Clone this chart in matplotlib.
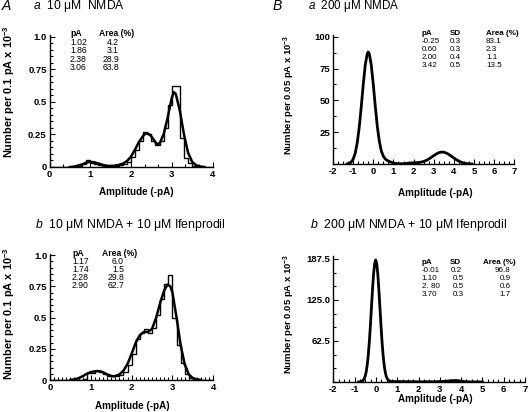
import matplotlib
matplotlib.use("Agg")
import matplotlib.pyplot as plt
from matplotlib.ticker import MultipleLocator

plt.rcParams['font.family'] = ['Liberation Sans', 'DejaVu Sans']
plt.rcParams['mathtext.fontset'] = 'custom'
plt.rcParams['mathtext.rm'] = 'Liberation Sans'
plt.rcParams['mathtext.it'] = 'Liberation Sans:italic'
plt.rcParams['mathtext.bf'] = 'Liberation Sans:bold'

# ---------------- data ----------------
bin_edges_A = [i / 10 for i in range(41)]

hist_Aa = [0, 0, 0, 0, 0, 0, 0,
           0.005, 0.02, 0.05, 0.03, 0.02, 0.012, 0.006, 0.005, 0.005, 0.01,
           0.012, 0.02, 0.04, 0.075, 0.13, 0.2, 0.265, 0.25, 0.2, 0.17,
           0.2, 0.3, 0.48, 0.62, 0.62, 0.22, 0.07, 0.03, 0.01, 0.005,
           0, 0, 0]
fit_Aa_x = [0.5, 0.6, 0.7, 0.8, 0.9, 1.0, 1.1, 1.2, 1.3, 1.4, 1.5, 1.6, 1.7, 1.8,
            1.9, 2.0, 2.1, 2.2, 2.3, 2.35, 2.4, 2.45, 2.5, 2.6, 2.65, 2.7, 2.8,
            2.9, 3.0, 3.05, 3.1, 3.2, 3.3, 3.4, 3.5, 3.6, 3.7, 3.8]
fit_Aa_y = [0.0, 0.003, 0.01, 0.02, 0.033, 0.04, 0.036, 0.027, 0.017, 0.01, 0.008,
            0.01, 0.016, 0.026, 0.045, 0.08, 0.135, 0.195, 0.24, 0.255, 0.258,
            0.25, 0.235, 0.19, 0.175, 0.18, 0.25, 0.38, 0.53, 0.575, 0.56, 0.43,
            0.25, 0.11, 0.04, 0.013, 0.004, 0.0]

hist_Ab = [0, 0, 0, 0, 0, 0, 0, 0,
           0.01, 0.06, 0.06, 0.07, 0.065, 0.05, 0.035, 0.03, 0.03, 0.04,
           0.065, 0.12, 0.21, 0.33, 0.38, 0.41, 0.375, 0.42, 0.52, 0.65,
           0.77, 0.84, 0.5, 0.28, 0.14, 0.05, 0.02, 0.01,
           0, 0, 0, 0]
fit_Ab_x = [0.5, 0.6, 0.7, 0.8, 0.9, 1.0, 1.1, 1.17, 1.25, 1.3, 1.4, 1.5, 1.55,
            1.6, 1.7, 1.8, 1.9, 2.0, 2.1, 2.2, 2.3, 2.4, 2.5, 2.6, 2.7, 2.8,
            2.88, 2.95, 3.0, 3.1, 3.2, 3.3, 3.4, 3.5, 3.6, 3.7]
fit_Ab_y = [0.0, 0.005, 0.015, 0.03, 0.05, 0.063, 0.07, 0.072, 0.068, 0.062,
            0.045, 0.033, 0.03, 0.032, 0.045, 0.075, 0.13, 0.21, 0.3, 0.36,
            0.385, 0.385, 0.41, 0.5, 0.62, 0.72, 0.765, 0.75, 0.7, 0.5, 0.28,
            0.125, 0.045, 0.015, 0.005, 0.0]

fit_Ba_x = [-1.3, -1.2, -1.1, -1.0, -0.9, -0.8, -0.7, -0.6, -0.5, -0.4, -0.3,
            -0.25, -0.2, -0.1, 0.0, 0.1, 0.2, 0.3, 0.4, 0.5, 0.6, 0.7, 0.8, 0.9,
            1.0, 1.1, 1.2, 1.3, 1.4, 1.5, 1.6, 1.7, 1.8, 1.9, 2.0, 2.1, 2.2, 2.3,
            2.4, 2.5, 2.6, 2.7, 2.8, 2.9, 3.0, 3.1, 3.2, 3.3, 3.4, 3.5, 3.6, 3.7,
            3.8, 3.9, 4.0, 4.1, 4.2, 4.3, 4.4, 4.5, 4.6, 4.7, 4.8, 4.9]
fit_Ba_y = [0.2, 0.6, 1.6, 3.9, 8.4, 16.4, 28.6, 44.5, 62.2, 77.7, 86.8,
            88.0, 86.8, 77.7, 62.5, 45.1, 29.6, 17.9, 10.3, 6.2, 4.0, 2.9,
            2.1, 1.5, 1.0, 0.67, 0.44, 0.36, 0.36, 0.45, 0.56, 0.71,
            0.84, 0.96, 1.07, 1.16, 1.27, 1.45, 1.74, 2.16, 2.77, 3.57,
            4.52, 5.6, 6.72, 7.76, 8.63, 9.23, 9.5, 9.38, 8.9, 8.12,
            7.12, 5.99, 4.85, 3.77, 2.81, 2.02, 1.39, 0.92, 0.59, 0.36,
            0.21, 0.12]

fit_Bb_x = [-0.81, -0.71, -0.61, -0.56, -0.51, -0.46, -0.41, -0.36, -0.31, -0.26,
            -0.21, -0.16, -0.11, -0.06, -0.01, 0.04, 0.09, 0.14, 0.19, 0.24,
            0.29, 0.34, 0.39, 0.44, 0.49, 0.54, 0.59, 0.69, 0.79,
            1.1, 1.5, 2.0, 2.5, 2.8, 3.2, 3.5, 3.7, 3.9, 4.2, 4.5, 5.0]
fit_Bb_y = [0.06, 0.4, 2.1, 4.2, 8.2, 14.8, 25.2, 40.3, 60.4, 85.2,
            112.8, 140.4, 164.1, 180.3, 186.0, 180.3, 164.1, 140.4, 112.8, 85.2,
            60.4, 40.3, 25.2, 14.8, 8.2, 4.7, 2.6, 1.0, 0.6,
            0.7, 0.5, 0.3, 0.35, 0.5, 0.9, 1.8, 2.3, 1.8, 0.5, 0.1, 0.0]

table_Aa_pA = ["1.02", "1.86", "2.38", "3.06"]
table_Aa_area = ["4.2", "3.1", "28.9", "63.8"]
table_Ab_pA = ["1.17", "1.74", "2.28", "2.90"]
table_Ab_area = ["6.0", "1.5", "29.8", "62.7"]
table_Ba_pA = ["-0.25", "0.60", "2.00", "3.42"]
table_Ba_sd = ["0.3", "0.3", "0.4", "0.5"]
table_Ba_area = ["83.1", "2.3", "1.1", "13.5"]
table_Bb_pA = ["-0.01", "1.10", "2. 80", "3.70"]
table_Bb_sd = ["0.2", "0.5", "0.5", "0.3"]
table_Bb_area = ["96.8", "0.9", "0.6", "1.7"]

A_yticks = [0, 0.25, 0.5, 0.75, 1.0]
A_yticklabels = ["0", "0.25", "0.5", "0.75", "1.0"]
A_xticks = [0, 1, 2, 3, 4]
B_xticks = [-2, -1, 0, 1, 2, 3, 4, 5, 6, 7]
Ba_yticks = [25, 50, 75, 100]
Bb_yticks = [62.5, 125.0, 187.5]
Bb_yticklabels = ["62.5", "125.0", "187.5"]

# ---------------- figure ----------------
W, H = 529, 412
fig = plt.figure(figsize=(W / 100, H / 100), dpi=100)


def ax_px(left, right, bottom, top):
    return fig.add_axes([left / W, 1 - bottom / H, (right - left) / W, (bottom - top) / H])


def style(ax):
    for s in ['top', 'right']:
        ax.spines[s].set_visible(False)
    for s in ['left', 'bottom']:
        ax.spines[s].set_linewidth(1.0)
    ax.tick_params(which='both', direction='in', width=0.8, labelsize=6.8, pad=2)
    ax.tick_params(which='major', length=3.5)
    ax.tick_params(which='minor', length=2.2)
    for lab in ax.get_xticklabels() + ax.get_yticklabels():
        lab.set_fontweight('bold')


LAB = dict(fontsize=7.1, fontweight='bold')
YLAB_A_STYLE = dict(fontsize=7.9, fontweight='bold')
YLAB_B_STYLE = dict(fontsize=6.8, fontweight='bold')
YLAB_A = r"Number per 0.1 pA x 10$^{\mathbf{-3}}$"
YLAB_B = r"Number per 0.05 pA x 10$^{\mathbf{-3}}$"

# Aa
axAa = ax_px(49.5, 212.5, 167, 35.5)
axAa.stairs(hist_Aa, bin_edges_A, color='black', linewidth=1.0, baseline=0)
axAa.plot(fit_Aa_x, fit_Aa_y, color='black', linewidth=1.8)
axAa.set_xlim(0, 4)
axAa.set_ylim(0, 1.01)
axAa.set_xticks(A_xticks)
axAa.set_xticklabels([str(t) for t in A_xticks])
axAa.set_yticks(A_yticks)
axAa.set_yticklabels(A_yticklabels)
axAa.xaxis.set_minor_locator(MultipleLocator(1 / 3))
axAa.yaxis.set_minor_locator(MultipleLocator(0.05))
style(axAa)
axAa.set_xlabel("Amplitude (-pA)", **LAB)
axAa.xaxis.set_label_coords(0.533, -0.155)
axAa.set_ylabel(YLAB_A, **YLAB_A_STYLE)
axAa.yaxis.set_label_coords(-0.198, 0.572)

# Ab
axAb = ax_px(50, 213.3, 380, 254)
axAb.stairs(hist_Ab, bin_edges_A, color='black', linewidth=1.0, baseline=0)
axAb.plot(fit_Ab_x, fit_Ab_y, color='black', linewidth=1.8)
axAb.set_xlim(0, 4)
axAb.set_ylim(0, 1.01)
axAb.set_xticks(A_xticks)
axAb.set_xticklabels([str(t) for t in A_xticks])
axAb.set_yticks(A_yticks)
axAb.set_yticklabels(A_yticklabels)
axAb.xaxis.set_minor_locator(MultipleLocator(0.1))
axAb.yaxis.set_minor_locator(MultipleLocator(0.05))
style(axAb)
axAb.set_xlabel("Amplitude (-pA)", **LAB)
axAb.xaxis.set_label_coords(0.505, -0.165)
axAb.set_ylabel(YLAB_A, **YLAB_A_STYLE)
axAb.yaxis.set_label_coords(-0.2, 0.53)

# Ba
axBa = ax_px(333, 514.3, 164.2, 35.4)
axBa.plot(fit_Ba_x, fit_Ba_y, color='black', linewidth=2.0)
axBa.set_xlim(-2, 7)
axBa.set_ylim(0, 101)
axBa.set_xticks(B_xticks)
axBa.set_xticklabels([str(t) for t in B_xticks])
axBa.set_yticks(Ba_yticks)
axBa.set_yticklabels([str(t) for t in Ba_yticks])
axBa.xaxis.set_minor_locator(MultipleLocator(0.25))
axBa.yaxis.set_minor_locator(MultipleLocator(12.5))
style(axBa)
axBa.set_xlabel("Amplitude (-pA)", **LAB)
axBa.xaxis.set_label_coords(0.564, -0.185)
axBa.set_ylabel(YLAB_B, **YLAB_B_STYLE)
axBa.yaxis.set_label_coords(-0.2, 0.535)

# Bb
axBb = ax_px(333.3, 525, 382, 256)
axBb.plot(fit_Bb_x, fit_Bb_y, color='black', linewidth=2.0)
axBb.set_xlim(-2, 7)
axBb.set_ylim(0, 192)
axBb.set_xticks(B_xticks)
axBb.set_xticklabels([str(t) for t in B_xticks])
axBb.set_yticks(Bb_yticks)
axBb.set_yticklabels(Bb_yticklabels)
axBb.xaxis.set_minor_locator(MultipleLocator(0.25))
axBb.yaxis.set_minor_locator(MultipleLocator(62.5 / 3))
style(axBb)
axBb.set_xlabel("Amplitude (-pA)", **LAB)
axBb.xaxis.set_label_coords(0.532, -0.095)
axBb.set_ylabel(YLAB_B, **YLAB_B_STYLE)
axBb.yaxis.set_label_coords(-0.19, 0.544)


# ---------------- texts ----------------
def ftext(px, py, s, **kw):
    fig.text(px / W, 1 - py / H, s, **kw)


ftext(1.5, 6.5, "A", fontsize=10, style='italic', va='center', ha='left')
ftext(273, 6.5, "B", fontsize=10, style='italic', va='center', ha='left')
ftext(33, 6.5, r"$\mathit{a}$  10 μM  NMDA", fontsize=8.7, va='center', ha='left')
ftext(308, 6.5, r"$\mathit{a}$  200 μM NMDA", fontsize=8.4, va='center', ha='left')
ftext(35, 225, r"$\mathit{b}$  10 μM NMDA + 10 μM Ifenprodil", fontsize=8.8, va='center', ha='left')
ftext(310, 225, r"$\mathit{b}$  200 μM NMDA + 10 μM Ifenprodil", fontsize=8.8, va='center', ha='left')

# tables
TA = 6.2
ftext(70, 33.5, "pA", fontsize=TA, fontweight='bold', va='center')
ftext(99, 33.5, "Area (%)", fontsize=TA, fontweight='bold', va='center')
for i, (p, a) in enumerate(zip(table_Aa_pA, table_Aa_area)):
    y = 42.5 + i * 8.4
    ftext(70, y, p, fontsize=TA, va='center')
    ftext(119, y, a, fontsize=TA, va='center', ha='right')

ftext(72, 253, "pA", fontsize=TA, fontweight='bold', va='center')
ftext(102, 253, "Area (%)", fontsize=TA, fontweight='bold', va='center')
for i, (p, a) in enumerate(zip(table_Ab_pA, table_Ab_area)):
    y = 261.3 + i * 8.0
    ftext(72, y, p, fontsize=TA, va='center')
    ftext(124, y, a, fontsize=TA, va='center', ha='right')

TB = 5.8
ftext(421.5, 33.5, "pA", fontsize=TB, fontweight='bold', va='center')
ftext(450, 33.5, "SD", fontsize=TB, fontweight='bold', va='center')
ftext(486, 33.5, "Area (%)", fontsize=TB, fontweight='bold', va='center')
for i, (p, s, a) in enumerate(zip(table_Ba_pA, table_Ba_sd, table_Ba_area)):
    y = 41.7 + i * 8.0
    ftext(421.5, y, p, fontsize=TB, va='center')
    ftext(450, y, s, fontsize=TB, va='center')
    ftext(486, y, a, fontsize=TB, va='center')

ftext(421.5, 263, "pA", fontsize=TB, fontweight='bold', va='center')
ftext(450, 263, "SD", fontsize=TB, fontweight='bold', va='center')
ftext(483, 263, "Area (%)", fontsize=TB, fontweight='bold', va='center')
for i, (p, s, a) in enumerate(zip(table_Bb_pA, table_Bb_sd, table_Bb_area)):
    y = 270.5 + i * 8.0
    ftext(421.5, y, p, fontsize=TB, va='center')
    ftext(451 if i == 0 else 453, y, s, fontsize=TB, va='center')
    ftext(510.5, y, a, fontsize=TB, va='center', ha='right')

fig.savefig("out.png", dpi=100)
